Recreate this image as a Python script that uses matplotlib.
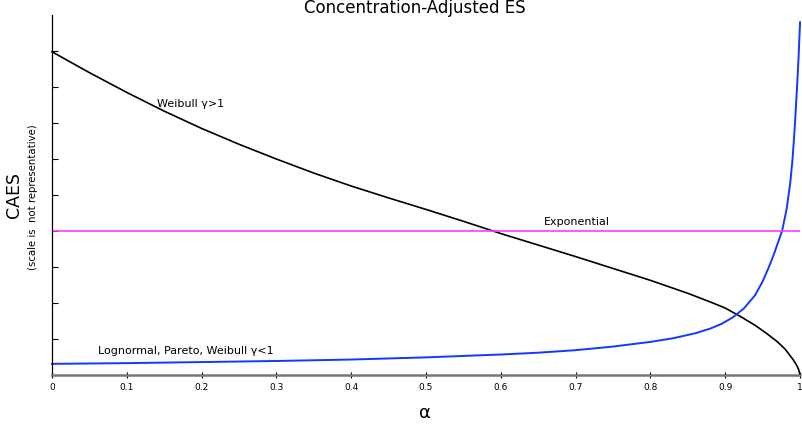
import numpy as np
import matplotlib.pyplot as plt

# alpha values and curve readings (arbitrary CAES scale)
alpha_w = [0.0, 0.05, 0.1, 0.15, 0.2, 0.25, 0.3, 0.35, 0.4, 0.45, 0.5, 0.55, 0.6,
           0.65, 0.7, 0.75, 0.8, 0.85, 0.88, 0.9, 0.92, 0.94, 0.955, 0.97, 0.98,
           0.99, 0.995, 0.998, 1.0]
caes_weibull_gt1 = [8.98, 8.40, 7.85, 7.33, 6.85, 6.41, 6.00, 5.61, 5.25, 4.92, 4.60, 4.27, 3.93,
                    3.61, 3.29, 2.96, 2.63, 2.27, 2.03, 1.86, 1.63, 1.38, 1.16, 0.92, 0.72,
                    0.45, 0.29, 0.16, 0.0]

alpha_l = [0.0, 0.1, 0.2, 0.3, 0.4, 0.5, 0.6, 0.65, 0.7, 0.75, 0.8, 0.83, 0.86, 0.88, 0.895,
           0.91, 0.925, 0.94, 0.95, 0.958, 0.965, 0.97, 0.976, 0.982, 0.987, 0.99, 0.993,
           0.996, 0.998, 1.0]
caes_heavy = [0.31, 0.33, 0.36, 0.39, 0.43, 0.49, 0.57, 0.62, 0.69, 0.79, 0.92, 1.02, 1.16, 1.29,
              1.42, 1.60, 1.85, 2.22, 2.60, 2.98, 3.35, 3.65, 4.0, 4.6, 5.35, 6.0, 6.9,
              8.0, 8.8, 9.8]

caes_exponential = 4.0

x_ticks = [0, 0.1, 0.2, 0.3, 0.4, 0.5, 0.6, 0.7, 0.8, 0.9, 1]
x_tick_labels = ['0', '0.1', '0.2', '0.3', '0.4', '0.5', '0.6', '0.7', '0.8', '0.9', '1']

fig = plt.figure(figsize=(8.03, 4.28), dpi=100)
ax = fig.add_axes([0.0648, 0.1238, 0.9315, 0.841])

ax.plot(alpha_w, caes_weibull_gt1, color='black', linewidth=1.2, clip_on=False)
ax.plot(alpha_l, caes_heavy, color='#1438ff', linewidth=1.4, clip_on=False)
ax.axhline(caes_exponential, color='#ff3cff', linewidth=1.2)

ax.text(0.14, 7.52, 'Weibull γ>1', fontsize=8, va='center')
ax.text(0.658, 4.25, 'Exponential', fontsize=8, va='center')
ax.text(0.062, 0.68, 'Lognormal, Pareto, Weibull γ<1', fontsize=8, va='center')

ax.set_xlim(0, 1)
ax.set_ylim(0, 10)
ax.set_xticks(x_ticks)
ax.set_xticklabels(x_tick_labels, fontsize=6.5)
ax.set_yticks(range(1, 10))
ax.set_yticklabels([])
ax.tick_params(axis='x', direction='inout', length=5, width=0.8, pad=3)
ax.tick_params(axis='y', direction='in', length=4, width=0.8)

for s in ['top', 'right']:
    ax.spines[s].set_visible(False)
ax.spines['bottom'].set_color('#777777')
ax.spines['bottom'].set_linewidth(1.8)
ax.spines['left'].set_linewidth(0.9)

fig.text(0.516, 0.982, 'Concentration-Adjusted ES', fontsize=12, ha='center', va='center')
fig.text(0.529, 0.035, 'α', fontsize=13, ha='center', va='center')
fig.text(0.018, 0.545, 'CAES', fontsize=12.5, rotation=90, ha='center', va='center')
fig.text(0.041, 0.54, '(scale is  not representative)', fontsize=7.3, rotation=90,
         ha='center', va='center')

fig.savefig('out.png', dpi=100)
